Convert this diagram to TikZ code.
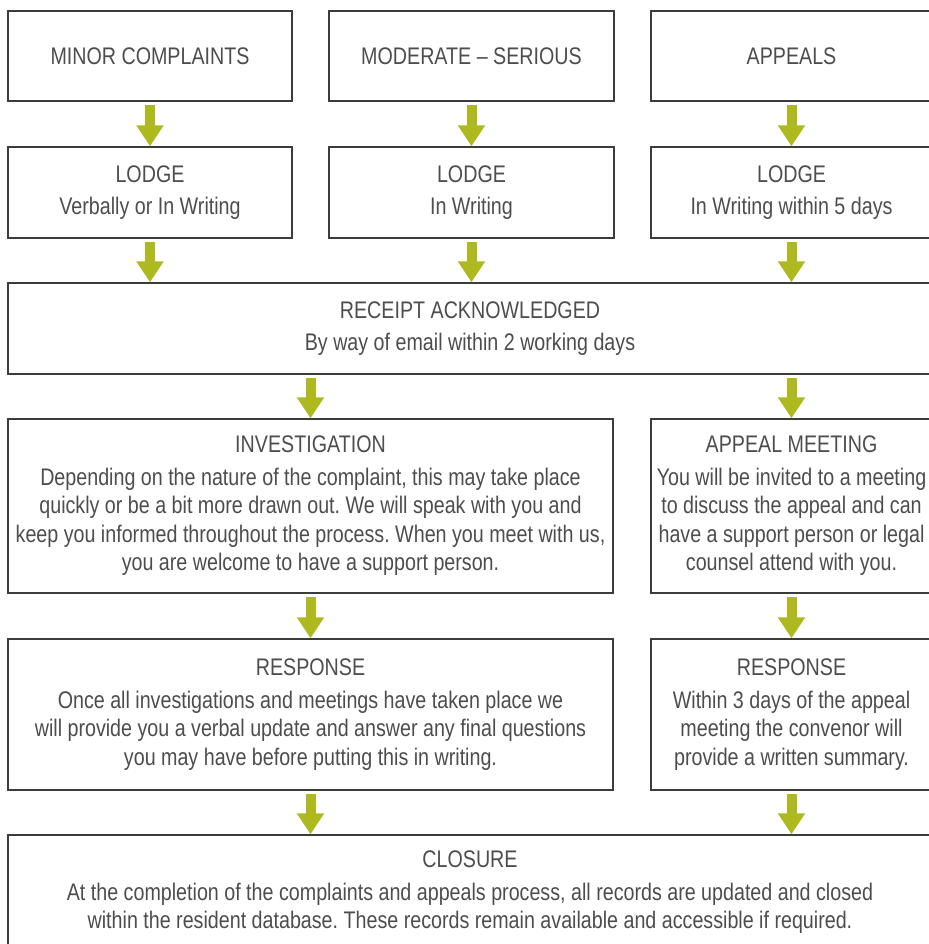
\documentclass[tikz,border=0pt]{standalone}
\usepackage{fontspec}
\setmainfont[FakeStretch=0.82]{Liberation Sans}
\usetikzlibrary{arrows.meta, calc}
\definecolor{boxline}{HTML}{3C3C3C}
\definecolor{boxtext}{HTML}{4D4D4D}
\definecolor{arrowgreen}{HTML}{ADB91E}
\frenchspacing

\begin{document}
\begin{tikzpicture}[x=1pt, y=-1pt,
        stage/.style={draw=boxline, line width=1.4pt, text=boxtext, align=center,
            inner sep=0pt, font=\fontsize{24}{28.5}\selectfont},
        flow/.style={arrowgreen, line width=10pt, -{Triangle[width=26pt, length=21pt]}}]
    \useasboundingbox (0,0) rectangle (928,944);
        % Draw the three kinds of complaint
        \node[stage, minimum width=284pt, minimum height=90pt] (minor) at (150,56) {MINOR COMPLAINTS};
        \node[stage, minimum width=285pt, minimum height=90pt] (moderate) at (471.5,56) {MODERATE -- SERIOUS};
        \node[stage, minimum width=281pt, minimum height=90pt] (appeals) at (791.5,56) {APPEALS};
        % Draw the lodge boxes
        \node[stage, minimum width=284pt, minimum height=91pt] (lodgeminor) at (150,192.5)
            {LODGE\\[3pt] Verbally or In Writing};
        \node[stage, minimum width=285pt, minimum height=91pt] (lodgemoderate) at (471.5,192.5)
            {LODGE\\[3pt] In Writing};
        \node[stage, minimum width=281pt, minimum height=91pt] (lodgeappeals) at (791.5,192.5)
            {LODGE\\[3pt] In Writing within 5 days};
        % Draw the receipt box
        \node[stage, minimum width=924pt, minimum height=91pt] (receipt) at (470,328.5)
            {RECEIPT ACKNOWLEDGED\\[4pt] By way of email within 2 working days};
        % Draw investigation and appeal meeting
        \node[stage, minimum width=605pt, minimum height=174pt] (investigation) at (310.5,506)
            {INVESTIGATION\\[4pt]
            Depending on the nature of the complaint, this may take place\\
            quickly or be a bit more drawn out. We will speak with you and\\
            keep you informed throughout the process. When you meet with us,\\
            you are welcome to have a support person.};
        \node[stage, minimum width=281pt, minimum height=174pt] (appealmeeting) at (791.5,506)
            {APPEAL MEETING\\[4pt]
            You will be invited to a meeting\\
            to discuss the appeal and can\\
            have a support person or legal\\
            counsel attend with you.};
        % Draw the responses
        \node[stage, minimum width=605pt, minimum height=151pt] (response) at (310.5,714.5)
            {RESPONSE\\[4pt]
            Once all investigations and meetings have taken place we\\
            will provide you a verbal update and answer any final questions\\
            you may have before putting this in writing.};
        \node[stage, minimum width=281pt, minimum height=151pt] (appealresponse) at (791.5,714.5)
            {RESPONSE\\[4pt]
            Within 3 days of the appeal\\
            meeting the convenor will\\
            provide a written summary.};
        % Draw the closure box
        \node[stage, minimum width=924pt, minimum height=115pt] (closure) at (470,892.5)
            {CLOSURE\\[4pt]
            At the completion of the complaints and appeals process, all records are updated and closed\\
            within the resident database. These records remain available and accessible if required.};
        % Draw the arrows
        \draw[flow] ($(minor.south)+(0,3)$) -- (lodgeminor.north);
        \draw[flow] ($(moderate.south)+(0,3)$) -- (lodgemoderate.north);
        \draw[flow] ($(appeals.south)+(0,3)$) -- (lodgeappeals.north);
        \draw[flow] ($(lodgeminor.south)+(0,3)$) -- (lodgeminor.south |- receipt.north);
        \draw[flow] ($(lodgemoderate.south)+(0,3)$) -- (lodgemoderate.south |- receipt.north);
        \draw[flow] ($(lodgeappeals.south)+(0,3)$) -- (lodgeappeals.south |- receipt.north);
        \draw[flow] ($(investigation.north |- receipt.south)+(0,3)$) -- (investigation.north);
        \draw[flow] ($(appealmeeting.north |- receipt.south)+(0,3)$) -- (appealmeeting.north);
        \draw[flow] ($(investigation.south)+(0,3)$) -- (response.north);
        \draw[flow] ($(appealmeeting.south)+(0,3)$) -- (appealresponse.north);
        \draw[flow] ($(response.south)+(0,3)$) -- (response.south |- closure.north);
        \draw[flow] ($(appealresponse.south)+(0,3)$) -- (appealresponse.south |- closure.north);
\end{tikzpicture}
\end{document}
